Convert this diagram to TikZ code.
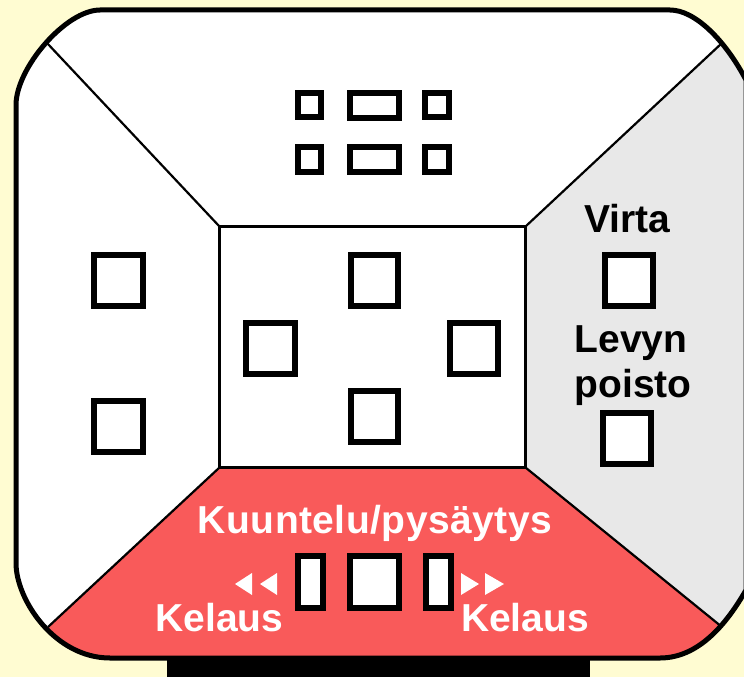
\documentclass[tikz,border=0pt]{standalone}
\usepackage{fontspec}
\setmainfont{Liberation Sans}
\definecolor{bgc}{HTML}{FFFCD2}
\definecolor{redc}{HTML}{F95A5A}
\definecolor{grayc}{HTML}{E8E8E8}
\tikzset{
  btn/.style={draw=black,fill=white,line width=6pt,inner sep=0pt,outer sep=0pt,minimum width=#1},
  lab/.style={font=\fontsize{39}{41}\selectfont\bfseries,inner sep=0pt,anchor=base},
  tri/.style={fill=white,draw=none},
  edge/.style={draw=black,line width=2.2pt}
}
\newcommand{\outline}{(100,10) -- (670,10) .. controls (695,10) and (725,40) .. (746,80) -- (746,590) .. controls (726,625) and (698,658) .. (660,658) -- (110,658) .. controls (55,658) and (16,600) .. (16,563) -- (16,105) .. controls (16,68) and (66,10) .. cycle}
\begin{document}
\begin{tikzpicture}[x=1pt,y=-1pt]
\useasboundingbox (0,0) rectangle (744,677);
\fill[bgc] (0,0) rectangle (744,677);
\fill[black] (167,655) rectangle (590,677);
\fill[white] \outline;
\begin{scope}
\clip \outline;
\fill[grayc] (526,226) -- (760,7.5) -- (770,7.5) -- (770,641.6) -- (740,641.6) -- (526,468) -- cycle;
\fill[redc] (219,468) -- (526,468) -- (740,641.6) -- (740,670) -- (30,670) -- (38,636.3) -- cycle;
\end{scope}
\draw[line width=5pt] \outline;
\coordinate (tl) at (47,43);
\coordinate (tr) at (722,43);
\coordinate (bl) at (48,627);
\coordinate (br) at (722,627);
\node[draw=black,line width=3pt,fill=white,inner sep=0pt,outer sep=0pt,minimum width=306pt,minimum height=241pt] (mid) at (372.5,347) {};
\draw[edge] (tl) -- (mid.north west);
\draw[edge] (tr) -- (mid.north east);
\draw[edge] (bl) -- (mid.south west);
\draw[edge] (br) -- (mid.south east);
% top group
\node[btn=23pt,minimum height=24pt] (t1) at (309,104.5) {};
\node[btn=49pt,minimum height=25pt] (t2) at (374,105) {};
\node[btn=24pt,minimum height=24pt] (t3) at (437,104.5) {};
\node[btn=23pt,minimum height=25pt] (t4) at (309,159) {};
\node[btn=49pt,minimum height=25pt] (t5) at (374,159) {};
\node[btn=24pt,minimum height=25pt] (t6) at (437,159) {};
% centre
\node[btn=47pt,minimum height=51pt] (c1) at (374,280) {};
\node[btn=49pt,minimum height=51pt] (c2) at (270,348) {};
\node[btn=48pt,minimum height=51pt] (c3) at (473.5,348) {};
\node[btn=47pt,minimum height=51pt] (c4) at (374,416) {};
% left
\node[btn=49pt,minimum height=51pt] (l1) at (118,280) {};
\node[btn=49pt,minimum height=51pt] (l2) at (118,426) {};
% right
\node[btn=48pt,minimum height=51pt] (r1) at (628.5,280) {};
\node[btn=48pt,minimum height=51pt] (r2) at (626.5,438) {};
\node[lab,text=black] (virta) at (627,232) {Virta};
\node[lab,text=black] (levyn) at (631,352) {Levyn};
\node[lab,text=black] (poisto) at (633,397) {poisto};
% bottom
\node[btn=25pt,minimum height=52pt] (b1) at (310,581.5) {};
\node[btn=49pt,minimum height=52pt] (b2) at (374,581.5) {};
\node[btn=25pt,minimum height=52pt] (b3) at (438,581.5) {};
\node[lab,text=white] (kuuntelu) at (375,533) {\addfontfeature{LetterSpace=1.2}Kuuntelu/pysäytys};
\node[lab,text=white] (kel1) at (219.5,631) {Kelaus};
\node[lab,text=white] (kel2) at (525,631) {Kelaus};
\fill[tri] (235,584) -- (252,573) -- (252,595) -- cycle;
\fill[tri] (260,584) -- (277,573) -- (277,595) -- cycle;
\fill[tri] (461,573) -- (479,584) -- (461,595) -- cycle;
\fill[tri] (485,573) -- (504,584) -- (485,595) -- cycle;
\end{tikzpicture}
\end{document}
